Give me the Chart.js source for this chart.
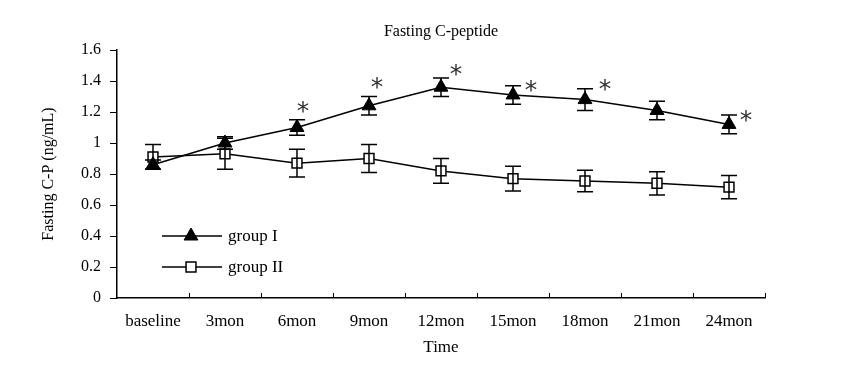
<!DOCTYPE html>
<html>
<head>
<meta charset="utf-8">
<script src="https://cdn.jsdelivr.net/npm/chart.js@4.4.1/dist/chart.umd.min.js"></script>
<style>
  html, body { margin: 0; padding: 0; background: #fff; }
  #wrap { width: 865px; height: 368px; }
</style>
</head>
<body>
<div id="wrap"><canvas id="chart" width="865" height="368"></canvas></div>
<script>
const labels = ['baseline', '3mon', '6mon', '9mon', '12mon', '15mon', '18mon', '21mon', '24mon'];
const group1 = [0.86, 1.00, 1.10, 1.24, 1.36, 1.31, 1.28, 1.21, 1.12];
const group1Err = [0.03, 0.04, 0.05, 0.06, 0.06, 0.06, 0.07, 0.06, 0.06];
const group2 = [0.91, 0.93, 0.87, 0.90, 0.82, 0.77, 0.755, 0.74, 0.715];
const group2Err = [0.08, 0.10, 0.09, 0.09, 0.08, 0.08, 0.07, 0.075, 0.075];
const significant = [false, false, true, true, true, true, true, false, true];
const chartTitle = 'Fasting C-peptide';

// where each star sits relative to its point (px)
const starOffsets = [[0, 0], [0, 0], [6, -21], [8, -23], [15, -18], [18, -9], [20, -15], [0, 0], [17, -9]];

const serif = '"Liberation Serif", "Times New Roman", serif';

const errorBars = {
    id: 'errorBars',
    afterDatasetsDraw(chart) {
        const ctx = chart.ctx;
        const y = chart.scales.y;
        const errs = [group1Err, group2Err];
        ctx.save();
        ctx.strokeStyle = '#000';
        ctx.lineWidth = 1.5;
        chart.data.datasets.forEach((ds, di) => {
            const meta = chart.getDatasetMeta(di);
            meta.data.forEach((pt, i) => {
                const v = ds.data[i];
                const top = y.getPixelForValue(v + errs[di][i]);
                const bot = y.getPixelForValue(v - errs[di][i]);
                ctx.beginPath();
                ctx.moveTo(pt.x, top); ctx.lineTo(pt.x, bot);
                ctx.moveTo(pt.x - 8, top); ctx.lineTo(pt.x + 8, top);
                ctx.moveTo(pt.x - 8, bot); ctx.lineTo(pt.x + 8, bot);
                ctx.stroke();
            });
        });
        ctx.restore();
    }
};

const extras = {
    id: 'extras',
    afterDraw(chart) {
        const ctx = chart.ctx;
        const area = chart.chartArea;
        ctx.save();
        // title centred over the plot area
        ctx.fillStyle = '#000';
        ctx.font = '16px ' + serif;
        ctx.textAlign = 'center';
        ctx.textBaseline = 'middle';
        ctx.fillText(chartTitle, (area.left + area.right) / 2, area.top - 18);
        // x tick marks pointing up, between categories
        ctx.strokeStyle = '#000';
        ctx.lineWidth = 1;
        const n = labels.length;
        for (let i = 1; i <= n; i++) {
            const px = Math.round(area.left + i * (area.right - area.left) / n) + 0.5;
            ctx.beginPath();
            ctx.moveTo(px, area.bottom);
            ctx.lineTo(px, area.bottom - 5);
            ctx.stroke();
        }
        // stars
        ctx.fillStyle = '#333';
        ctx.font = '25px "DejaVu Sans", sans-serif';
        const meta = chart.getDatasetMeta(0);
        significant.forEach((s, i) => {
            if (!s) return;
            const pt = meta.data[i];
            ctx.fillText('*', pt.x + starOffsets[i][0], pt.y + starOffsets[i][1] + 6);
        });
        // legend inside plot
        const items = [
            { text: 'group I', ds: chart.data.datasets[0] },
            { text: 'group II', ds: chart.data.datasets[1] }
        ];
        items.forEach((it, k) => {
            const ly = area.top + 186 + k * 31;
            const lx = area.left + 45;
            ctx.strokeStyle = '#000';
            ctx.lineWidth = 1.5;
            ctx.beginPath();
            ctx.moveTo(lx, ly); ctx.lineTo(lx + 60, ly);
            ctx.stroke();
            ctx.fillStyle = it.ds.pointBackgroundColor;
            ctx.strokeStyle = '#000';
            ctx.lineWidth = it.ds.pointBorderWidth;
            Chart.helpers.drawPoint(ctx, {
                pointStyle: it.ds.pointStyle,
                radius: it.ds.pointRadius,
                borderWidth: it.ds.pointBorderWidth,
                rotation: 0
            }, lx + 29, ly);
            ctx.fillStyle = '#000';
            ctx.font = '17px ' + serif;
            ctx.textAlign = 'left';
            ctx.textBaseline = 'middle';
            ctx.fillText(it.text, lx + 66, ly + 1);
        });
        ctx.restore();
    }
};

new Chart(document.getElementById('chart'), {
    type: 'line',
    data: {
        labels: labels,
        datasets: [{
            label: 'group I',
            data: group1,
            borderColor: '#000',
            borderWidth: 1.5,
            pointStyle: 'triangle',
            pointRadius: 8,
            pointBackgroundColor: '#000',
            pointBorderColor: '#000',
            pointBorderWidth: 1,
            tension: 0
        }, {
            label: 'group II',
            data: group2,
            borderColor: '#000',
            borderWidth: 1.5,
            pointStyle: 'rect',
            pointRadius: 7,
            pointBackgroundColor: '#fff',
            pointBorderColor: '#000',
            pointBorderWidth: 1.5,
            tension: 0
        }]
    },
    options: {
        responsive: false,
        animation: false,
        layout: { padding: { left: 0, right: 100, top: 50, bottom: 0 } },
        plugins: {
            legend: { display: false },
            tooltip: { enabled: false },
            title: { display: false }
        },
        scales: {
            x: {
                offset: true,
                grid: { display: false, drawTicks: false },
                border: { color: '#000', width: 1.5 },
                ticks: { color: '#000', font: { family: serif, size: 17 }, padding: 13, maxRotation: 0 },
                title: { display: true, text: 'Time', color: '#000', font: { family: serif, size: 17 }, padding: { top: 4, bottom: 10 } },
                afterFit: (s) => { s.height = 70; }
            },
            y: {
                min: 0,
                max: 1.6,
                ticks: {
                    stepSize: 0.2,
                    color: '#000',
                    font: { family: serif, size: 16 },
                    padding: 9,
                    callback: (v) => String(+v.toFixed(1))
                },
                grid: { drawOnChartArea: false, tickLength: 7, color: '#000', lineWidth: 1 },
                border: { color: '#000', width: 1.5 },
                title: { display: true, text: 'Fasting C-P (ng/mL)', color: '#000', font: { family: serif, size: 16 }, padding: { top: 39, bottom: 0 } },
                afterFit: (s) => { s.width = 117; }
            }
        }
    },
    plugins: [errorBars, extras]
});
</script>
</body>
</html>
